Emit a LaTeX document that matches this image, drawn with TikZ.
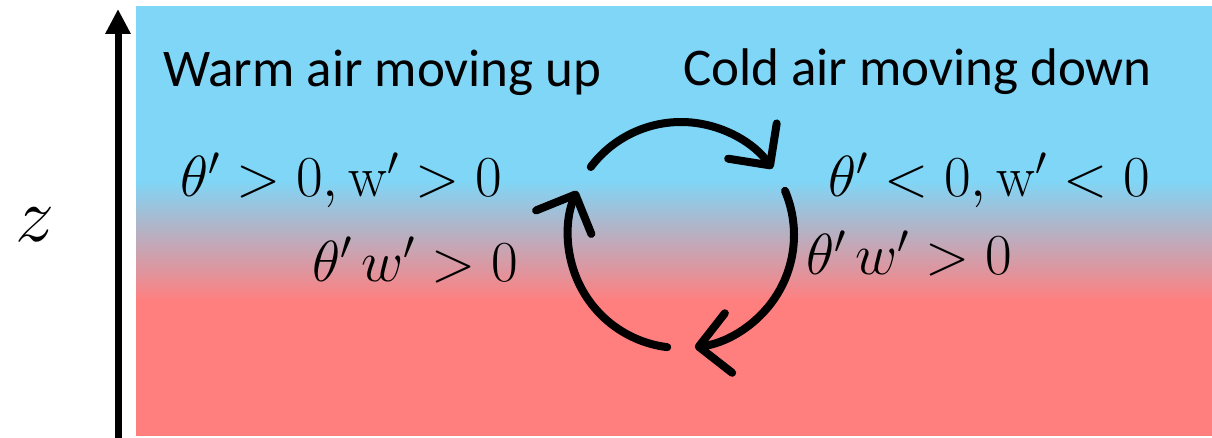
\RequirePackage{fix-cm}
\documentclass[tikz,border=0pt]{standalone}
\usepackage[no-math]{fontspec}
\setmainfont{Carlito}
\usetikzlibrary{arrows.meta}
\definecolor{coldblue}{HTML}{7FD6F7}
\definecolor{warmred}{HTML}{FF7F7F}

\begin{document}
\begin{tikzpicture}[x=1pt, y=-1pt,
  lbl/.style={anchor=base west, inner sep=0pt, font=\fontsize{53}{60}\selectfont},
  eqn/.style={anchor=base west, inner sep=0pt, font=\fontsize{58}{60}\selectfont},
  cyc/.style={line width=8pt, line cap=round,
    -{Straight Barb[length=30pt, width=60pt, line cap=round, line join=round]}}]
\useasboundingbox (0,0) rectangle (1212,438);

% Background layers
\fill[coldblue] (136,6) rectangle (1212,181);
\shade[top color=coldblue, bottom color=warmred] (136,180) rectangle (1212,301);
\fill[warmred] (136,300) rectangle (1212,436);

% Height axis
\coordinate (zbot) at (118,438);
\coordinate (ztop) at (118,9);
\draw[line width=7pt, -{Triangle[length=25pt, width=24pt]}] (zbot) -- (ztop);
\node[font=\fontsize{78}{80}\selectfont] (zlabel) at (35,225) {$z$};

% Labels
\node[lbl] (warm) at (163,87) {Warm air moving up};
\node[lbl] (cold) at (683,86) {Cold air moving down};
\node[eqn] (warmeq) at (180,197) {$\theta' > 0, \mathrm{w}' > 0$};
\node[eqn] (warmflux) at (312,281) {$\theta'\,w' > 0$};
\node[eqn] (coldeq) at (828,197) {$\theta' < 0, \mathrm{w}' < 0$};
\node[eqn] (coldflux) at (806,275) {$\theta'\,w' > 0$};

% Overturning circulation (angles measured clockwise, y points down)
\coordinate (ctr) at (681,235);
\draw[cyc] (ctr) ++(-143:113) arc[start angle=-143, end angle=-36, radius=113];
\draw[cyc] (ctr) ++(-23:113) arc[start angle=-23, end angle=83, radius=113];
\draw[cyc] (ctr) ++(97:113) arc[start angle=97, end angle=203, radius=113];

\end{tikzpicture}
\end{document}
